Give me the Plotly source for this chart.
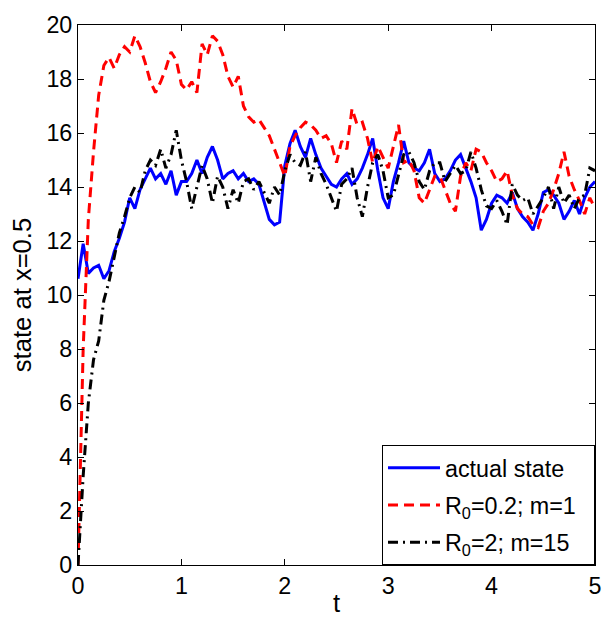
import plotly.graph_objects as go

t = [round(i * 0.05, 2) for i in range(101)]

actual_state = [
    10.6, 11.9, 10.8, 11.0, 11.1, 10.6, 10.9, 11.6, 12.1, 12.7,
    13.6, 13.2, 13.9, 14.3, 14.7, 14.3, 14.5, 14.1, 14.6, 13.7,
    14.2, 14.2, 14.5, 15.0, 14.5, 15.1, 15.5, 15.0, 14.3, 14.5,
    14.6, 14.3, 14.5, 14.2, 14.3, 14.1, 13.4, 12.8, 12.6, 12.7,
    14.8, 15.6, 16.1, 15.5, 15.1, 15.8, 15.2, 14.7, 14.4, 14.1,
    14.0, 14.3, 14.5, 14.1, 14.3, 14.7, 15.2, 15.8, 14.6, 13.6,
    13.2, 14.2, 14.9, 15.7, 14.9, 14.7, 14.6, 14.9, 15.4, 14.5,
    14.2, 14.3, 14.6, 15.0, 15.2, 14.7, 14.2, 13.6, 12.4, 12.8,
    13.4, 13.7, 13.6, 13.4, 13.8, 13.2, 12.9, 12.7, 12.4, 13.0,
    13.8, 13.9, 13.7, 13.4, 12.8, 13.1, 13.5, 13.0, 13.6, 14.0,
    14.2,
]

est_r02_m1 = [
    0.0, 8.0, 12.8, 15.3, 17.4, 18.5, 18.8, 18.4, 18.9, 19.2,
    19.0, 19.6, 19.2, 18.6, 17.9, 17.5, 17.9, 18.4, 19.0, 18.7,
    17.8, 17.6, 17.9, 17.5, 19.3, 18.9, 19.6, 19.4, 18.9, 18.1,
    17.7, 18.1, 17.0, 16.6, 16.4, 16.5, 16.2, 15.9, 15.4, 14.9,
    14.4, 15.5, 15.9, 16.2, 16.4, 16.3, 16.1, 15.8, 15.9, 15.6,
    14.9, 15.7, 15.4, 16.9, 16.3, 16.4, 15.8, 14.9, 15.5, 15.1,
    14.7, 15.5, 16.3, 14.9, 15.0, 14.6, 13.6, 13.4, 13.9, 14.4,
    14.4, 13.9, 13.4, 13.1, 14.4, 14.9, 14.6, 15.4, 15.3, 14.9,
    14.6, 14.2, 14.3, 14.6, 13.7, 13.2, 13.0, 12.9, 12.6, 12.5,
    13.1, 13.4, 13.9, 14.5, 15.3, 14.4, 13.9, 13.5, 13.0, 13.6,
    13.2,
]

est_r2_m15 = [
    0.0, 3.3, 6.0, 7.6, 8.3, 9.8, 10.5, 11.4, 12.3, 12.9,
    13.6, 14.0, 13.8, 14.6, 15.0, 14.8, 15.4, 14.7, 15.2, 16.1,
    15.0, 14.2, 13.2, 14.0, 14.8, 14.3, 13.4, 14.4, 14.0, 13.2,
    13.9, 13.4, 14.2, 14.3, 13.9, 14.2, 13.8, 13.4, 14.0, 13.7,
    14.6, 15.2, 14.9, 14.8, 15.3, 14.2, 15.1, 14.5, 14.1, 13.6,
    13.1, 14.1, 14.3, 14.7, 13.6, 12.9, 14.0, 14.9, 15.2, 14.6,
    13.6, 13.7, 14.5, 15.2, 15.3, 14.9, 14.2, 13.9, 14.6, 14.9,
    14.9, 14.2, 14.5, 14.8, 14.5, 14.6, 15.3, 14.7, 13.9, 13.3,
    13.2, 13.5, 13.1, 12.6, 14.1, 13.7, 13.5, 13.6, 13.0, 13.3,
    13.6, 14.0, 13.2, 14.0, 13.4, 13.7, 13.2, 13.6, 13.7, 14.7,
    14.6,
]

x_ticks = [0, 1, 2, 3, 4, 5]
y_ticks = [0, 2, 4, 6, 8, 10, 12, 14, 16, 18, 20]

NB = "\u00a0"
names = ["actual state" + NB * 2,
         "R<sub>0</sub>=0.2; m=1" + NB * 2,
         "R<sub>0</sub>=2; m=15" + NB * 2]

FONT = "Liberation Sans"
FS = 23.3
FS_LABEL = 25.6
FS_LEG = 23.3

fig = go.Figure()
fig.add_trace(go.Scatter(x=t, y=actual_state, mode="lines", name=names[0],
                         legendgroup="a",
                         line=dict(color="#0000ff", width=3)))
fig.add_trace(go.Scatter(x=t, y=est_r02_m1, mode="lines", name=names[1],
                         legendgroup="b",
                         line=dict(color="#ff0000", width=3, dash="10px,6px")))
fig.add_trace(go.Scatter(x=t, y=est_r2_m15, mode="lines", name=names[2],
                         legendgroup="c",
                         line=dict(color="#000000", width=3, dash="10px,5px,2px,5px")))

axis_common = dict(
    showline=True, linecolor="black", linewidth=1, mirror="ticks",
    ticks="inside", ticklen=6, tickcolor="black", showgrid=False,
    zeroline=False, ticklabeloverflow="allow",
    tickfont=dict(family=FONT, size=FS, color="black"),
)

fig.update_layout(
    width=613, height=618,
    margin=dict(l=78, r=18, t=18, b=53),
    paper_bgcolor="white", plot_bgcolor="white",
    font=dict(family=FONT, size=FS, color="black"),
    xaxis=dict(range=[0, 5], tickvals=x_ticks, ticktext=[str(v) for v in x_ticks],
               **axis_common),
    yaxis=dict(range=[0, 20], tickvals=y_ticks, ticktext=[str(v) for v in y_ticks],
               title=dict(text="state at x=0.5", font=dict(family=FONT, size=FS_LABEL), standoff=7),
               **axis_common),
    legend=dict(x=1, y=0, xanchor="right", yanchor="bottom",
                bgcolor="white", bordercolor="black", borderwidth=1,
                font=dict(family=FONT, size=FS_LEG, color="black"),
                itemwidth=52, tracegroupgap=4),
    annotations=[dict(text="t", xref="paper", yref="paper", x=0.5, y=-0.071,
                      xanchor="center", yanchor="middle", showarrow=False,
                      font=dict(family=FONT, size=FS_LABEL, color="black"))],
    showlegend=True,
)

fig.write_html(
    "out.html",
    config={"displayModeBar": False},
    post_script="document.body.style.margin='0';document.body.style.overflow='hidden';",
)
